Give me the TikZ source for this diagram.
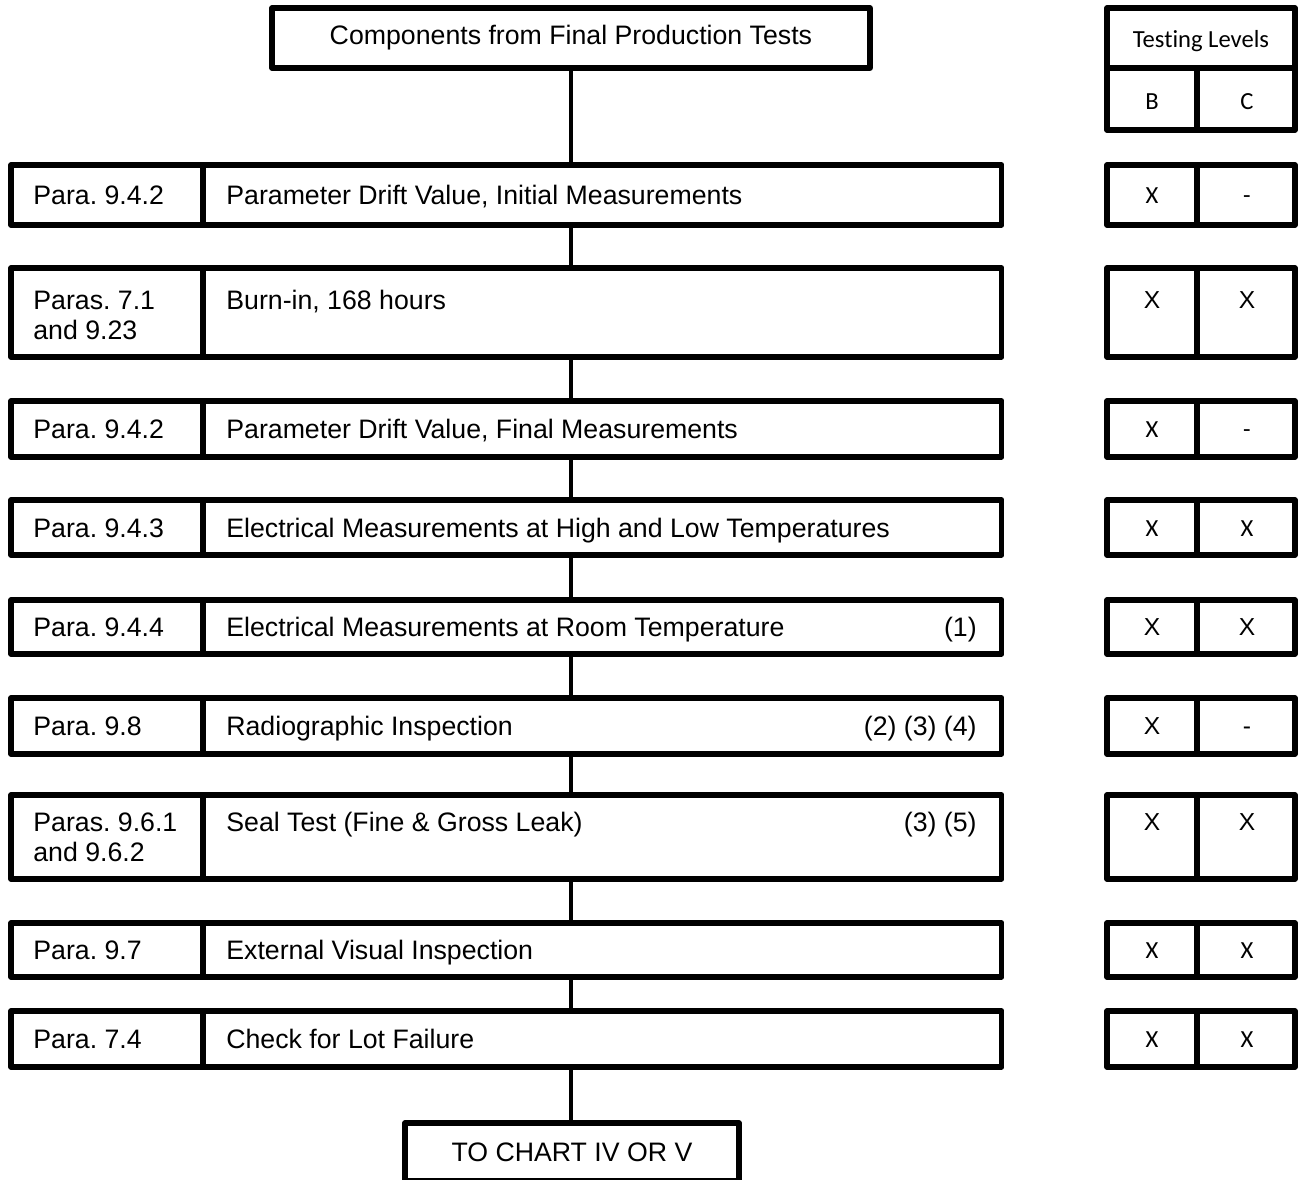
\documentclass[tikz,border=0pt]{standalone}
\usepackage{fontspec}
\setmainfont{Liberation Sans}
\newfontfamily\calfont[RawFeature=-liga]{Carlito}
\frenchspacing

\begin{document}
\begin{tikzpicture}[x=0.02cm,y=-0.02cm,
  box/.style={draw,line width=3pt,line join=round,anchor=north west,inner sep=0pt,outer sep=0pt},
  txt/.style={anchor=base west,inner sep=0pt,align=left,font=\fontsize{15.2}{17}\selectfont},
  lvl/.style={anchor=base,inner sep=0pt,font=\fontsize{14}{17}\selectfont},
  link/.style={line width=2.2pt}]
\useasboundingbox (0,0) rectangle (1303,1180);
% start and end of the chart
\node[box,minimum width=11.96cm,minimum height=1.2cm,font=\fontsize{15.2}{17}\selectfont] (top) at (272,8) {Components from Final Production Tests};
\node[box,minimum width=6.68cm,minimum height=1.16cm,font=\fontsize{15.2}{17}\selectfont] (end) at (405,1123) {TO CHART IV OR V};
% testing levels head
\node[box,minimum width=3.76cm,minimum height=1.2cm] (lev) at (1107,8) {};
\node[box,minimum width=1.8cm,minimum height=1.24cm] (hb) at (1107,68) {};
\node[box,minimum width=1.96cm,minimum height=1.24cm] (hc) at (1197,68) {};
\node[lvl,font=\calfont\fontsize{14}{17}\selectfont] (levt) at (1201,47) {Testing Levels};
\node[lvl,font=\calfont\fontsize{14}{17}\selectfont] (hbt) at (1152,109) {B};
\node[lvl,font=\calfont\fontsize{14}{17}\selectfont] (hct) at (1247,109) {C};
% test steps
\foreach \i/\y/\h/\ya/\yb/\pa/\tx/\nt/\b/\c/\f in {
  1/165/1.20/195/195/{Para. 9.4.2}/{Parameter Drift Value, Initial Measurements}/{}/X/-/\calfont,
  2/268/1.78/300/330/{Paras. 7.1\\and 9.23}/{Burn-in, 168 hours}/{}/X/X/\rmfamily,
  3/401/1.12/429/429/{Para. 9.4.2}/{Parameter Drift Value, Final Measurements}/{}/X/-/\calfont,
  4/500/1.10/528/528/{Para. 9.4.3}/{Electrical Measurements at High and Low Temperatures}/{}/X/X/\calfont,
  5/600/1.08/627/627/{Para. 9.4.4}/{Electrical Measurements at Room Temperature}/{(1)}/X/X/\rmfamily,
  6/698/1.12/726/726/{Para. 9.8}/{Radiographic Inspection}/{(2) (3) (4)}/X/-/\rmfamily,
  7/795/1.68/822/852/{Paras. 9.6.1\\and 9.6.2}/{Seal Test (Fine \& Gross Leak)}/{(3) (5)}/X/X/\rmfamily,
  8/923/1.08/950/950/{Para. 9.7}/{External Visual Inspection}/{}/X/X/\calfont,
  9/1011/1.12/1039/1039/{Para. 7.4}/{Check for Lot Failure}/{}/X/X/\calfont}{
  \node[box,minimum width=3.84cm,minimum height=\h cm] (p\i) at (11,\y) {};
  \node[box,minimum width=15.98cm,minimum height=\h cm] (m\i) at (203,\y) {};
  \node[box,minimum width=1.8cm,minimum height=\h cm] (b\i) at (1107,\y) {};
  \node[box,minimum width=1.96cm,minimum height=\h cm] (c\i) at (1197,\y) {};
  \node[txt] (pt\i) at (33,\yb+9) {\pa};
  \node[txt] (mt\i) at (226,\ya+9) {\tx};
  \node[txt,anchor=base east] (nt\i) at (977,\ya+9) {\nt};
  \node[lvl,font=\f\fontsize{14}{17}\selectfont] (bt\i) at (1152,\ya+8) {\b};
  \node[lvl,font=\f\fontsize{14}{17}\selectfont] (ct\i) at (1247,\ya+8) {\c};
}
% connectors
\draw[link] (top.south) -- (top.south |- m1.north);
\foreach \i [count=\j from 2] in {1,...,8}
  \draw[link] (top.south |- m\i.south) -- (top.south |- m\j.north);
\draw[link] (top.south |- m9.south) -- (top.south |- end.north);
\end{tikzpicture}
\end{document}
